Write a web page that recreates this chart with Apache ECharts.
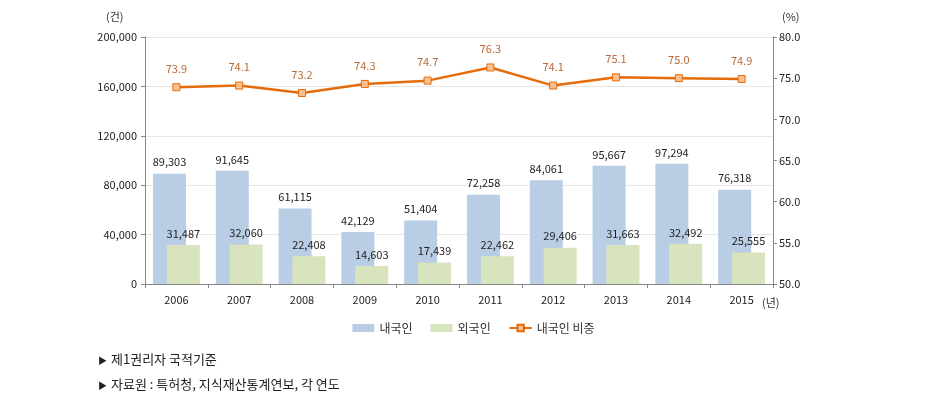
<!DOCTYPE html>
<html><head><meta charset="utf-8">
<script src="https://cdn.jsdelivr.net/npm/echarts@6/dist/echarts.min.js"></script>
<style>html,body{margin:0;padding:0;background:#fff}#c{width:947px;height:409px}</style>
</head><body><div id="c"></div>
<script>
const years = ['2006','2007','2008','2009','2010','2011','2012','2013','2014','2015'];
const domestic = [89303,91645,61115,42129,51404,72258,84061,95667,97294,76318];
const foreign = [31487,32060,22408,14603,17439,22462,29406,31663,32492,25555];
const share = [73.9,74.1,73.2,74.3,74.7,76.3,74.1,75.1,75.0,74.9];
const leftTicks = [0,40000,80000,120000,160000,200000];
const rightTicks = [50,55,60,65,70,75,80];

const FONT = '"Noto Sans CJK KR", "Noto Sans", sans-serif';
const chart = echarts.init(document.getElementById('c'));
chart.setOption({
  animation:false,
  textStyle:{fontFamily:FONT},
  grid:{left:145,right:174,top:37,bottom:125},
  legend:{
    bottom:70, left:'center', itemWidth:22, itemHeight:8, itemGap:18,
    textStyle:{fontSize:12,color:'#333',fontFamily:FONT},
    data:[{name:'내국인',icon:'rect'},{name:'외국인',icon:'rect'},{name:'내국인 비중'}]
  },
  xAxis:{
    type:'category', data:years,
    axisLine:{lineStyle:{color:'#888'}},
    axisTick:{show:true,length:4,lineStyle:{color:'#888'}},
    axisLabel:{fontSize:11,color:'#222',margin:10,fontFamily:FONT}
  },
  yAxis:[{
    type:'value', min:leftTicks[0], max:leftTicks[leftTicks.length-1], interval:40000,
    axisLine:{show:true,lineStyle:{color:'#888'}},
    axisTick:{show:true,length:4,lineStyle:{color:'#888'}},
    splitLine:{lineStyle:{color:'#e6e6e6'}},
    axisLabel:{fontSize:11,color:'#222',margin:8,fontFamily:FONT,
      formatter:v=>v.toLocaleString('en-US')}
  },{
    type:'value', min:rightTicks[0], max:rightTicks[rightTicks.length-1], interval:5,
    axisLine:{show:true,lineStyle:{color:'#888'}},
    axisTick:{show:true,length:4,lineStyle:{color:'#888'}},
    splitLine:{show:false},
    axisLabel:{fontSize:11,color:'#222',margin:6,fontFamily:FONT,
      formatter:v=>v.toFixed(1)}
  }],
  series:[{
    name:'내국인', type:'bar', data:domestic, barWidth:33, barGap:'-58%',
    itemStyle:{color:'#B9CDE5'},
    label:{show:true,position:'top',distance:6,fontSize:11,color:'#222',
      formatter:p=>p.value.toLocaleString('en-US')}
  },{
    name:'외국인', type:'bar', data:foreign, barWidth:33,
    itemStyle:{color:'#D7E4BD'},
    label:{show:true,position:'top',distance:6,fontSize:11,color:'#222',
      formatter:p=>p.value.toLocaleString('en-US')}
  },{
    name:'내국인 비중', type:'line', yAxisIndex:1, data:share,
    symbol:'rect', symbolSize:7,
    lineStyle:{color:'#E46C0A',width:2.5},
    itemStyle:{color:'#FAC090',borderColor:'#E46C0A',borderWidth:1},
    label:{show:true,position:'top',distance:9,fontSize:11,color:'#B86A3A',
      formatter:p=>p.value.toFixed(1)}
  }],
  graphic:[
    {type:'text',left:106,top:11,style:{text:'(건)',fontSize:11,fill:'#333',fontFamily:FONT}},
    {type:'text',left:782,top:11,style:{text:'(%)',fontSize:11,fill:'#333',fontFamily:FONT}},
    {type:'text',left:762,top:297,style:{text:'(년)',fontSize:11,fill:'#333',fontFamily:FONT}},
    {type:'text',left:98,top:356,style:{text:'▶',fontSize:9,fill:'#222',fontFamily:FONT}},
    {type:'text',left:111,top:353,style:{text:'제1권리자 국적기준',fontSize:13,fill:'#222',fontFamily:FONT}},
    {type:'text',left:98,top:381,style:{text:'▶',fontSize:9,fill:'#222',fontFamily:FONT}},
    {type:'text',left:111,top:378,style:{text:'자료원 : 특허청, 지식재산통계연보, 각 연도',fontSize:13,fill:'#222',fontFamily:FONT}}
  ]
});
</script></body></html>
